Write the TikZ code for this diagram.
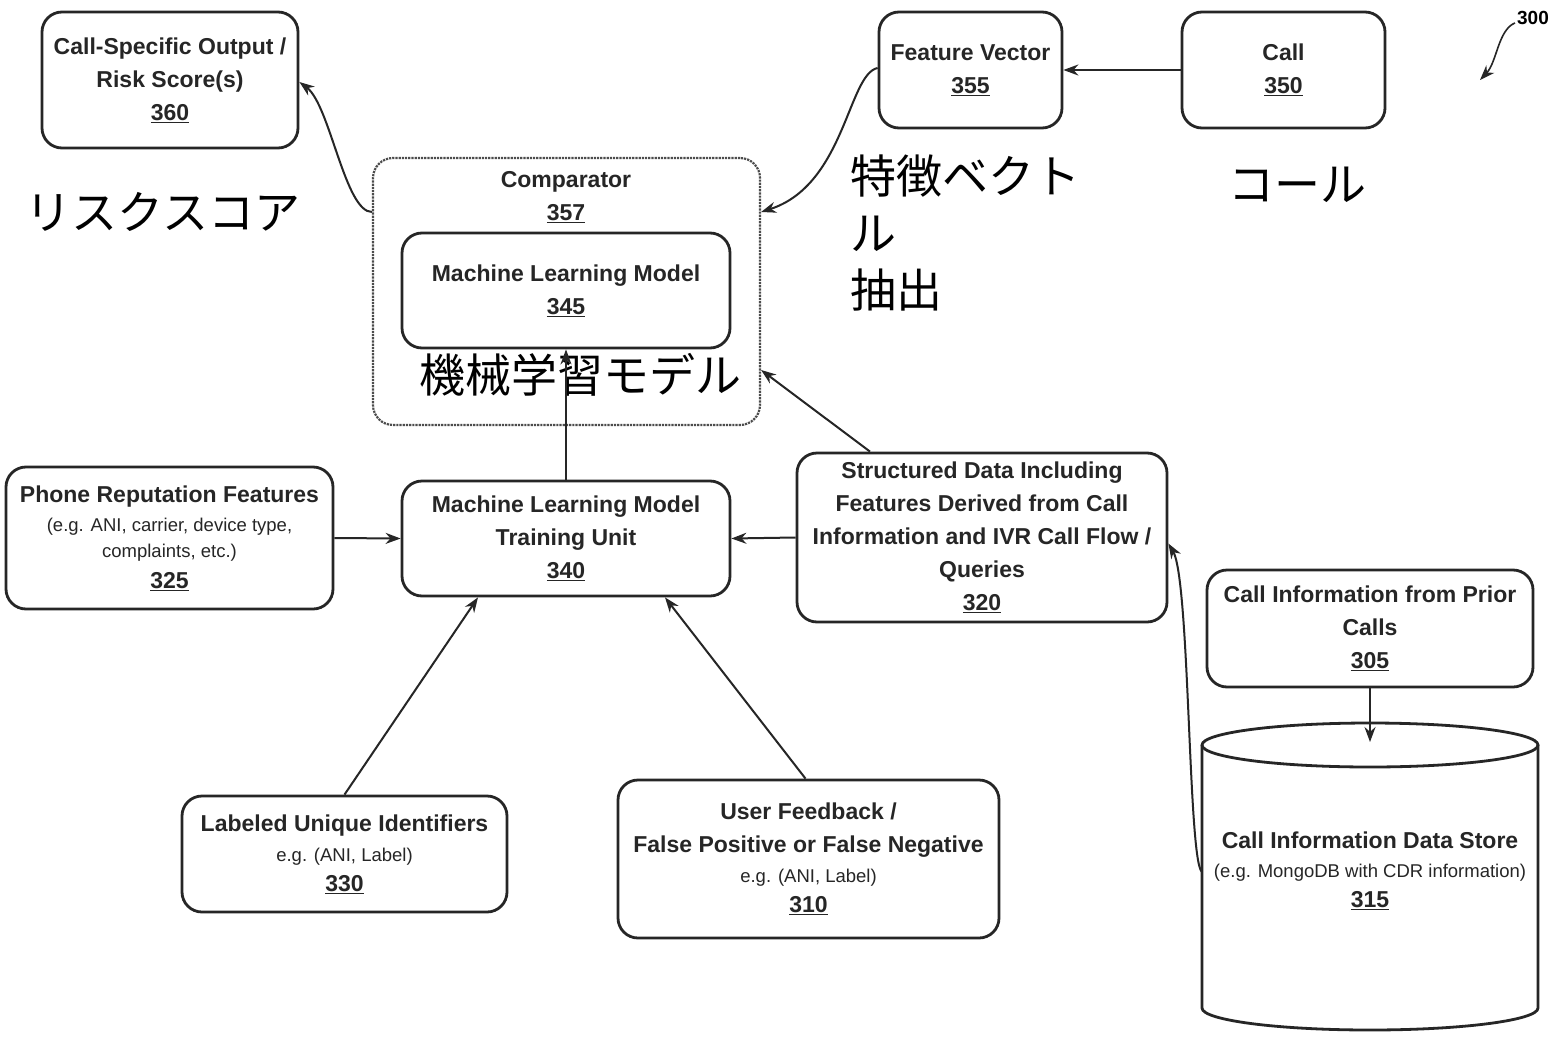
\documentclass[tikz,border=0pt]{standalone}
\usepackage{fontspec}
\setmainfont{Liberation Sans}
\newfontfamily\jpfont{Noto Sans CJK JP}
\newcommand\smtxt{\fontsize{18.5}{26}\mdseries\selectfont}
\usetikzlibrary{arrows.meta}
\begin{document}
\begin{tikzpicture}[x=1pt,y=-1pt,
  box/.style={draw=black!85, line width=2.8pt, rounded corners=20pt, align=center, inner sep=0pt,
    font=\fontsize{23}{33}\bfseries\selectfont, text=black!85},
  arr/.style={-{Stealth[length=15pt,width=11pt]}, line width=2pt, draw=black!85},
  jp/.style={font=\jpfont\fontsize{46}{57}\selectfont, inner sep=0pt, text=black},
  lbl/.style={font=\fontsize{23}{33}\bfseries\selectfont, align=center, inner sep=0pt, text=black!85}]
\useasboundingbox[fill=white] (0,0) rectangle (1562,1038);

% boxes
\node[box, minimum width=256pt, minimum height=136pt] (o360) at (170,80) {Call-Specific Output /\\Risk Score(s)\\\underline{360}};
\node[box, minimum width=183pt, minimum height=116pt] (fv) at (970.5,70) {Feature Vector\\\underline{355}};
\node[box, minimum width=203pt, minimum height=116pt] (call) at (1283.5,70) {Call\\\underline{350}};
\node[draw=black!70, line width=2.2pt, densely dotted, rounded corners=20pt, minimum width=387pt, minimum height=267pt, inner sep=0pt] (cmp) at (566.5,291.5) {};
\node[lbl] (cmpt) at (566,197.5) {Comparator\\\underline{357}};
\node[box, minimum width=328pt, minimum height=115pt] (ml) at (566,290.5) {Machine Learning Model\\\underline{345}};
\node[box, minimum width=327pt, minimum height=142pt] (pr) at (169.5,538) {Phone Reputation Features\\[-4pt]{\smtxt (e.g. ANI, carrier, device type,}\\[-7pt]{\smtxt complaints, etc.)}\\[-2pt]\underline{325}};
\node[box, minimum width=328pt, minimum height=115pt] (tr) at (566,538.5) {Machine Learning Model\\Training Unit\\\underline{340}};
\node[box, minimum width=370pt, minimum height=169pt] (sd) at (982,537.5) {Structured Data Including\\Features Derived from Call\\Information and IVR Call Flow /\\Queries\\\underline{320}};
\node[box, minimum width=326pt, minimum height=117pt] (pc) at (1370,628.5) {Call Information from Prior\\Calls\\\underline{305}};
\node[box, minimum width=325pt, minimum height=116pt] (lab) at (344.5,854) {Labeled Unique Identifiers\\[-3pt]{\smtxt e.g. (ANI, Label)}\\[-3pt]\underline{330}};
\node[box, minimum width=381pt, minimum height=158pt] (uf) at (808.5,859) {User Feedback /\\False Positive or False Negative\\[-3pt]{\smtxt e.g. (ANI, Label)}\\[-3pt]\underline{310}};

% cylinder 315
\draw[draw=black!85, line width=2.8pt] (1202,745) -- (1202,1008) arc[start angle=180, end angle=0, x radius=168, y radius=22] -- (1538,745);
\draw[draw=black!85, line width=2.8pt] (1370,745) ellipse[x radius=168, y radius=22];
\node[lbl] (cyl) at (1370,871) {Call Information Data Store\\[-4pt]{\smtxt (e.g. MongoDB with CDR information)}\\[-3pt]\underline{315}};
\coordinate (cylW) at (1202,872);
\coordinate (cylT) at (1370,742);

% label 300
\node[font=\fontsize{19}{20}\bfseries\selectfont, inner sep=0pt] (n300) at (1533,18) {300};
\coordinate (n300t) at (1480,80);
\draw[arr, line width=1.6pt] ([xshift=-2pt,yshift=2pt]n300.south west) .. controls (1498,30) and (1497,62) .. (n300t);

% japanese labels
\node[jp] (jrisk) at (163,212) {リスクスコア};
\node[jp, anchor=west, align=left] (jfv) at (850,233) {特徴ベクト\\ル\\抽出};
\node[jp] (jcall) at (1297,185) {コール};
\node[jp] (jml) at (580,375) {機械学習モデル};

% connectors
\draw[arr] (call.west) -- (fv.east);
\draw[arr] ([yshift=2pt]fv.west) .. controls (848,74) and (845,185) .. ([yshift=79.5pt]cmp.east);
\draw[arr] ([yshift=79.5pt]cmp.west) .. controls (345,212) and (330,105) .. ([yshift=-2pt]o360.east);
\draw[arr] (tr.north) -- (ml.south);
\draw[arr] ([xshift=-112pt]sd.north) -- ([yshift=-78.5pt]cmp.east);
\draw[arr] (sd.west) -- (tr.east);
\draw[arr] (pr.east) -- (tr.west);
\draw[arr] (lab.north) -- ([xshift=-88pt]tr.south);
\draw[arr] ([xshift=-3pt]uf.north) -- ([xshift=99pt]tr.south);
\draw[arr] (pc.south) -- (cylT);
\draw[arr] (cylW) .. controls (1188,862) and (1190,580) .. ([yshift=-6pt]sd.east);
\end{tikzpicture}
\end{document}
